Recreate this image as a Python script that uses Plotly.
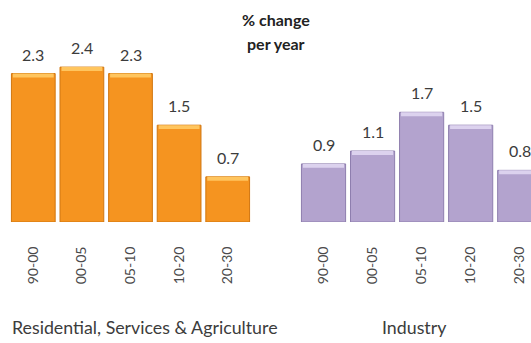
import plotly.graph_objects as go

periods = ["90-00", "00-05", "05-10", "10-20", "20-30"]
res_values = [2.3, 2.4, 2.3, 1.5, 0.7]
ind_values = [0.9, 1.1, 1.7, 1.5, 0.8]
res_label = "Residential, Services & Agriculture"
ind_label = "Industry"
title_lines = ["% change", "per year"]

FONT = "Lato, Carlito, Calibri, sans-serif"
ORANGE, ORANGE_EDGE, ORANGE_HI = "#F59420", "#D0760F", "#FFC55E"
PURPLE, PURPLE_EDGE, PURPLE_HI = "#B3A3CE", "#8E7EAE", "#DCD2EE"

W, H = 531, 343
fig = go.Figure()

def add_group(values, xaxis, color, edge, hi):
    idx = list(range(len(values)))
    fig.add_trace(go.Bar(x=idx, y=values, xaxis=xaxis, yaxis="y",
                         marker=dict(color=color, line=dict(color=edge, width=1)),
                         showlegend=False, hoverinfo="skip"))
    band = 0.06
    fig.add_trace(go.Bar(x=idx, y=[band] * len(values), base=[v - band for v in values],
                         xaxis=xaxis, yaxis="y", width=0.84,
                         marker=dict(color=hi, line=dict(width=0)),
                         showlegend=False, hoverinfo="skip"))
    for i, v in enumerate(values):
        fig.add_annotation(x=i, y=v, xref=xaxis, yref="y", text=f"{v:.1f}",
                           showarrow=False, xanchor="center", yanchor="bottom", yshift=8,
                           font=dict(family=FONT, size=16, color="#3c3c3c"))

add_group(res_values, "x", ORANGE, ORANGE_EDGE, ORANGE_HI)
add_group(ind_values, "x2", PURPLE, PURPLE_EDGE, PURPLE_HI)

tick_common = dict(tickmode="array", tickvals=list(range(len(periods))), ticktext=periods,
                   tickangle=-90, ticks="outside", ticklen=18, tickcolor="rgba(0,0,0,0)",
                   showline=False, showgrid=False, zeroline=False,
                   tickfont=dict(family=FONT, size=14, color="#4a4a4a"))

fig.update_layout(
    width=W, height=H,
    margin=dict(l=0, r=0, t=0, b=121),
    paper_bgcolor="white", plot_bgcolor="white",
    barmode="overlay", bargap=0.1,
    xaxis=dict(domain=[9 / W, 252 / W], range=[-0.5, 4.5], **tick_common),
    xaxis2=dict(domain=[299 / W, 1.0], range=[-0.5, 4.23], anchor="y", **tick_common),
    yaxis=dict(range=[0, 3.44], visible=False),
)

plot_h = H - 121
def py(p):
    return (plot_h - p) / plot_h

def label(xpx, ypx, text, size, color):
    fig.add_annotation(x=xpx / W, y=py(ypx), xref="paper", yref="paper", text=text,
                       showarrow=False, xanchor="center", yanchor="middle",
                       font=dict(family=FONT, size=size, color=color))

label(145, 327, res_label, 17.8, "#3c3c3c")
label(414, 327, ind_label, 17.8, "#3c3c3c")
label(276, 20, f"<b>{title_lines[0]}</b>", 16, "#222222")
label(276, 43, f"<b>{title_lines[1]}</b>", 16, "#222222")

fig.write_html("out.html", config={"displayModeBar": False},
               post_script="document.body.style.margin='0';document.body.style.overflow='hidden';")
